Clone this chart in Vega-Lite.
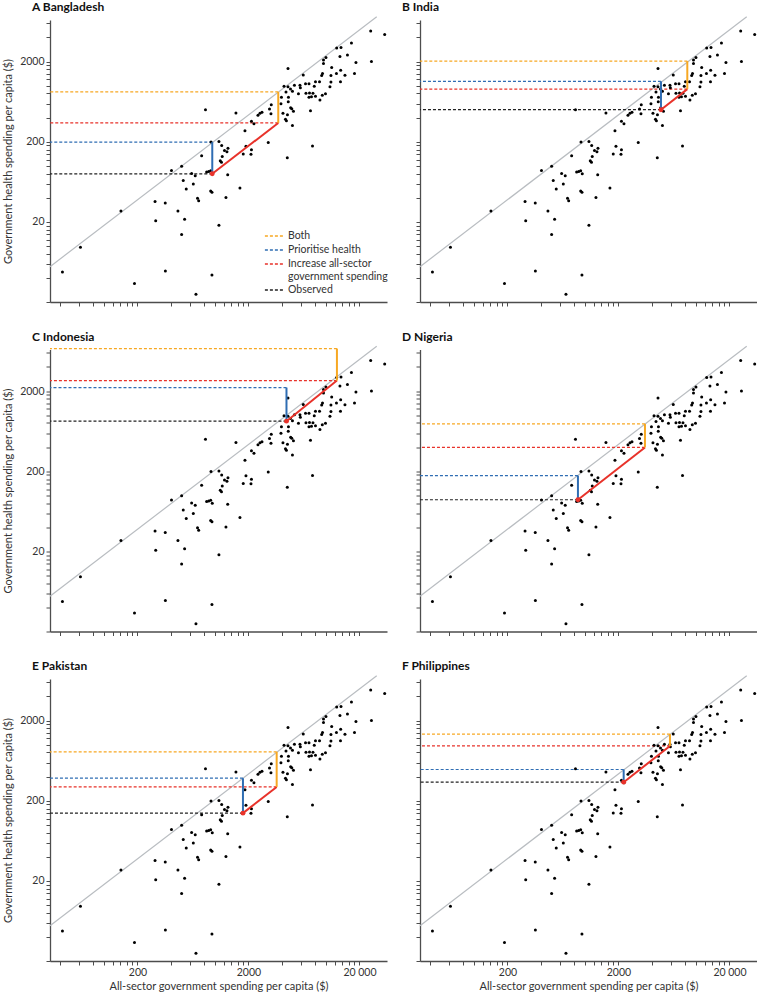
{
"$schema": "https://vega.github.io/schema/vega-lite/v6.json",
"background": "white",
"padding": {"left": 2, "top": 1, "right": 0, "bottom": 4},
"config": {
 "view": {"stroke": null},
 "font": "Lato",
 "axis": {"grid": false, "domainColor": "#4d4d4d", "domainWidth": 1.3, "tickColor": "#4d4d4d", "tickSize": 4, "tickWidth": 1, "labelFont": "Lato", "labelFontSize": 10.5, "labelColor": "#333333", "titleFont": "Lato", "titleFontSize": 11, "titleFontWeight": "normal", "titleColor": "#333333", "labelOverlap": false, "labelPadding": 2},
 "title": {"font": "Lato", "fontSize": 12, "fontWeight": "bold", "anchor": "start", "frame": "group", "dx": -18, "offset": 2, "color": "#111111"}
},
"datasets": {
 "diag": [{"x": 32.6, "y": 5.52, "x2": 28600, "y2": 7240}],
 "pts": [
  {"x":25230,"y":4810},{"x":33730,"y":4350},{"x":13630,"y":2990},{"x":12470,"y":2950},{"x":16940,"y":3406},
  {"x":9480,"y":2088},{"x":9980,"y":2244},{"x":13340,"y":2310},{"x":15590,"y":2412},{"x":18590,"y":1943},
  {"x":25650,"y":2000},{"x":4540,"y":1635},{"x":11240,"y":1692},{"x":13540,"y":1557},{"x":6235,"y":1364},
  {"x":9290,"y":1416},{"x":11070,"y":1337},{"x":12410,"y":1416},{"x":14800,"y":1352},{"x":18030,"y":1416},
  {"x":9130,"y":1345},{"x":8730,"y":1125},{"x":13490,"y":1125},{"x":11070,"y":1109},{"x":10840,"y":974},
  {"x":8030,"y":1118},{"x":7830,"y":988},{"x":7020,"y":1062},{"x":6530,"y":1062},{"x":5820,"y":1017},
  {"x":5870,"y":946},{"x":5190,"y":1017},{"x":4540,"y":974},{"x":4180,"y":988},{"x":4780,"y":907},
  {"x":4980,"y":855},{"x":5640,"y":796},{"x":6590,"y":803},{"x":7090,"y":812},{"x":7620,"y":808},
  {"x":7390,"y":726},{"x":7020,"y":720},{"x":8030,"y":741},{"x":9880,"y":796},{"x":9250,"y":763},
  {"x":8810,"y":662},{"x":7240,"y":488},{"x":4355,"y":836},{"x":3965,"y":720},{"x":4585,"y":720},
  {"x":4565,"y":632},{"x":3925,"y":597},{"x":4800,"y":532},{"x":5085,"y":481},{"x":4910,"y":517},
  {"x":4090,"y":452},{"x":4490,"y":435},{"x":4310,"y":382},{"x":4395,"y":366},{"x":4980,"y":320},
  {"x":3210,"y":580},{"x":3093,"y":513},{"x":3190,"y":448},{"x":2648,"y":468},{"x":2540,"y":454},
  {"x":2436,"y":429},{"x":1543,"y":457},{"x":2128,"y":361},{"x":2242,"y":336},{"x":1859,"y":274},
  {"x":3015,"y":196},{"x":1084,"y":201},{"x":1148,"y":179},{"x":1216,"y":156},{"x":1307,"y":166},
  {"x":1280,"y":150},{"x":1898,"y":176},{"x":2128,"y":159},{"x":2107,"y":140},{"x":1795,"y":141},
  {"x":7550,"y":177},{"x":4475,"y":126},{"x":1161,"y":131},{"x":1114,"y":116},{"x":1143,"y":111},
  {"x":1300,"y":77.3},{"x":1676,"y":52.8},{"x":1254,"y":40.3},{"x":1084,"y":18.2},{"x":938,"y":4.35},
  {"x":820,"y":502},{"x":919,"y":198},{"x":757,"y":134},{"x":405,"y":87.6},{"x":500,"y":98.8},
  {"x":615,"y":80.3},{"x":663,"y":75.2},{"x":840,"y":83.6},{"x":876,"y":85.1},{"x":913,"y":86.8},
  {"x":517,"y":65.7},{"x":637,"y":59.2},{"x":550,"y":51.3},{"x":695,"y":39.3},{"x":712,"y":36.6},
  {"x":913,"y":48.4},{"x":938,"y":47.0},{"x":288,"y":35.9},{"x":356,"y":34.3},{"x":463,"y":27.4},
  {"x":532,"y":21.6},{"x":292,"y":20.6},{"x":142,"y":27.4},{"x":500,"y":13.96},{"x":61.3,"y":9.65},
  {"x":42.2,"y":4.74},{"x":357,"y":4.88},{"x":188,"y":3.41},{"x":673,"y":2.5},{"x":944,"y":79.6},
  {"x":9480,"y":1888}
 ],
 "h": [
  {"country":"Bangladesh","series":"Both","x":3710,"y":836},
  {"country":"Bangladesh","series":"Prioritise health","x":944,"y":198},
  {"country":"Bangladesh","series":"Increase all-sector government spending","x":3710,"y":343},
  {"country":"Bangladesh","series":"Observed","x":944,"y":79.6},
  {"country":"India","series":"Both","x":8340,"y":2029},
  {"country":"India","series":"Prioritise health","x":4830,"y":1134},
  {"country":"India","series":"Increase all-sector government spending","x":8340,"y":907},
  {"country":"India","series":"Observed","x":4830,"y":502},
  {"country":"Indonesia","series":"Both","x":12530,"y":6790},
  {"country":"Indonesia","series":"Prioritise health","x":4400,"y":2213},
  {"country":"Indonesia","series":"Increase all-sector government spending","x":12530,"y":2705},
  {"country":"Indonesia","series":"Observed","x":4400,"y":843},
  {"country":"Nigeria","series":"Both","x":3465,"y":778},
  {"country":"Nigeria","series":"Prioritise health","x":863,"y":176},
  {"country":"Nigeria","series":"Increase all-sector government spending","x":3465,"y":396},
  {"country":"Nigeria","series":"Observed","x":863,"y":88.1},
  {"country":"Pakistan","series":"Both","x":3590,"y":815},
  {"country":"Pakistan","series":"Prioritise health","x":1784,"y":382},
  {"country":"Pakistan","series":"Increase all-sector government spending","x":3590,"y":297.5},
  {"country":"Pakistan","series":"Observed","x":1784,"y":140},
  {"country":"Philippines","series":"Both","x":5820,"y":1356},
  {"country":"Philippines","series":"Prioritise health","x":2228,"y":491},
  {"country":"Philippines","series":"Increase all-sector government spending","x":5820,"y":965},
  {"country":"Philippines","series":"Observed","x":2228,"y":341}
 ],
 "seg": [
  {"country":"Bangladesh","series":"Prioritise health","x":944,"y":79.6,"x2":944,"y2":198},
  {"country":"Bangladesh","series":"Increase all-sector government spending","x":944,"y":79.6,"x2":3710,"y2":343},
  {"country":"Bangladesh","series":"Both","x":3710,"y":343,"x2":3710,"y2":836},
  {"country":"India","series":"Prioritise health","x":4830,"y":502,"x2":4830,"y2":1134},
  {"country":"India","series":"Increase all-sector government spending","x":4830,"y":502,"x2":8340,"y2":907},
  {"country":"India","series":"Both","x":8340,"y":907,"x2":8340,"y2":2029},
  {"country":"Indonesia","series":"Prioritise health","x":4400,"y":843,"x2":4400,"y2":2213},
  {"country":"Indonesia","series":"Increase all-sector government spending","x":4400,"y":843,"x2":12530,"y2":2705},
  {"country":"Indonesia","series":"Both","x":12530,"y":2705,"x2":12530,"y2":6790},
  {"country":"Nigeria","series":"Prioritise health","x":863,"y":88.1,"x2":863,"y2":176},
  {"country":"Nigeria","series":"Increase all-sector government spending","x":863,"y":88.1,"x2":3465,"y2":396},
  {"country":"Nigeria","series":"Both","x":3465,"y":396,"x2":3465,"y2":778},
  {"country":"Pakistan","series":"Prioritise health","x":1784,"y":140,"x2":1784,"y2":382},
  {"country":"Pakistan","series":"Increase all-sector government spending","x":1784,"y":140,"x2":3590,"y2":297.5},
  {"country":"Pakistan","series":"Both","x":3590,"y":297.5,"x2":3590,"y2":815},
  {"country":"Philippines","series":"Prioritise health","x":2228,"y":341,"x2":2228,"y2":491},
  {"country":"Philippines","series":"Increase all-sector government spending","x":2228,"y":341,"x2":5820,"y2":965},
  {"country":"Philippines","series":"Both","x":5820,"y":965,"x2":5820,"y2":1356}
 ]
},
"resolve": {"legend": {"color": "independent"}},
"columns": 2,
"spacing": {"row": 47.5, "column": 33},
"bounds": "flush",
"concat": [
  {"width": 337, "height": 282, "title": {"text": "A  Bangladesh"},
   "layer": [
    {"data": {"name": "diag"}, "mark": {"type": "rule", "color": "#b9bdc1", "strokeWidth": 1.2},
     "encoding": {"x": {"field": "x", "type": "quantitative", "scale": {"type": "log", "domain": [32.6, 35400], "nice": false},
       "axis": {"values": [40,60,80,100,120,140,160,180,200,400,600,800,1000,1200,1400,1600,1800,2000,4000,6000,8000,10000,12000,14000,16000,18000,20000], "labels": false, "title": null}},
      "y": {"field": "y", "type": "quantitative", "scale": {"type": "log", "domain": [2, 6610], "nice": false},
       "axis": {"values": [2,4,6,8,10,12,14,16,18,20,40,60,80,100,120,140,160,180,200,400,600,800,1000,1200,1400,1600,1800,2000,4000,6000], "labelExpr": "datum.value == 20 ? '20' : datum.value == 200 ? '200' : datum.value == 2000 ? '2000' : ''", "title": "Government health spending per capita ($)", "titlePadding": 6}},
      "x2": {"field": "x2"}, "y2": {"field": "y2"}}},
    {"data": {"name": "h"}, "transform": [{"filter": "datum.country == 'Bangladesh'"}], "mark": {"type": "rule", "strokeDash": [3, 2], "strokeWidth": 1.2},
     "encoding": {"x": {"field": "x", "type": "quantitative"}, "x2": {"datum": 32.6}, "y": {"field": "y", "type": "quantitative"},
      "color": {"field": "series", "type": "nominal", "scale": {"domain": ["Both", "Prioritise health", "Increase all-sector government spending", "Observed"], "range": ["#f7a823", "#2f6db3", "#e8322a", "#222222"]},
       "legend": {"orient": "none", "legendX": 216, "legendY": 208, "title": null, "symbolType": "M-1.3,0H1.3", "symbolSize": 196, "symbolDash": [3, 2], "symbolStrokeWidth": 1.3, "labelFont": "Lato", "labelFontSize": 10.5, "labelColor": "#333333", "rowPadding": 0, "labelOffset": 6, "labelExpr": "datum.label == 'Increase all-sector government spending' ? ['Increase all-sector', 'government spending'] : datum.label"}}}},
    {"data": {"name": "pts"}, "mark": {"type": "circle", "size": 9, "color": "#000000", "opacity": 1},
     "encoding": {"x": {"field": "x", "type": "quantitative"}, "y": {"field": "y", "type": "quantitative"}}},
    {"data": {"name": "seg"}, "transform": [{"filter": "datum.country == 'Bangladesh'"}], "mark": {"type": "rule", "strokeWidth": 2},
     "encoding": {"x": {"field": "x", "type": "quantitative"}, "y": {"field": "y", "type": "quantitative"}, "x2": {"field": "x2"}, "y2": {"field": "y2"}, "color": {"field": "series", "type": "nominal"}}},
    {"data": {"name": "h"}, "transform": [{"filter": "datum.country == 'Bangladesh' && datum.series == 'Observed'"}], "mark": {"type": "circle", "size": 24, "color": "#e8322a", "opacity": 1},
     "encoding": {"x": {"field": "x", "type": "quantitative"}, "y": {"field": "y", "type": "quantitative"}}}
   ]},
  {"width": 337, "height": 282, "title": {"text": "B  India"},
   "layer": [
    {"data": {"name": "diag"}, "mark": {"type": "rule", "color": "#b9bdc1", "strokeWidth": 1.2},
     "encoding": {"x": {"field": "x", "type": "quantitative", "scale": {"type": "log", "domain": [32.6, 35400], "nice": false},
       "axis": {"values": [40,60,80,100,120,140,160,180,200,400,600,800,1000,1200,1400,1600,1800,2000,4000,6000,8000,10000,12000,14000,16000,18000,20000], "labels": false, "title": null}},
      "y": {"field": "y", "type": "quantitative", "scale": {"type": "log", "domain": [2, 6610], "nice": false},
       "axis": {"values": [2,4,6,8,10,12,14,16,18,20,40,60,80,100,120,140,160,180,200,400,600,800,1000,1200,1400,1600,1800,2000,4000,6000], "labels": false, "title": null}},
      "x2": {"field": "x2"}, "y2": {"field": "y2"}}},
    {"data": {"name": "h"}, "transform": [{"filter": "datum.country == 'India'"}], "mark": {"type": "rule", "strokeDash": [3, 2], "strokeWidth": 1.2},
     "encoding": {"x": {"field": "x", "type": "quantitative"}, "x2": {"datum": 32.6}, "y": {"field": "y", "type": "quantitative"}, "color": {"field": "series", "type": "nominal", "legend": null}}},
    {"data": {"name": "pts"}, "mark": {"type": "circle", "size": 9, "color": "#000000", "opacity": 1},
     "encoding": {"x": {"field": "x", "type": "quantitative"}, "y": {"field": "y", "type": "quantitative"}}},
    {"data": {"name": "seg"}, "transform": [{"filter": "datum.country == 'India'"}], "mark": {"type": "rule", "strokeWidth": 2},
     "encoding": {"x": {"field": "x", "type": "quantitative"}, "y": {"field": "y", "type": "quantitative"}, "x2": {"field": "x2"}, "y2": {"field": "y2"}, "color": {"field": "series", "type": "nominal", "legend": null}}},
    {"data": {"name": "h"}, "transform": [{"filter": "datum.country == 'India' && datum.series == 'Observed'"}], "mark": {"type": "circle", "size": 24, "color": "#e8322a", "opacity": 1},
     "encoding": {"x": {"field": "x", "type": "quantitative"}, "y": {"field": "y", "type": "quantitative"}}}
   ]},
  {"width": 337, "height": 282, "title": {"text": "C  Indonesia"},
   "layer": [
    {"data": {"name": "diag"}, "mark": {"type": "rule", "color": "#b9bdc1", "strokeWidth": 1.2},
     "encoding": {"x": {"field": "x", "type": "quantitative", "scale": {"type": "log", "domain": [32.6, 35400], "nice": false},
       "axis": {"values": [40,60,80,100,120,140,160,180,200,400,600,800,1000,1200,1400,1600,1800,2000,4000,6000,8000,10000,12000,14000,16000,18000,20000], "labels": false, "title": null}},
      "y": {"field": "y", "type": "quantitative", "scale": {"type": "log", "domain": [2, 6610], "nice": false},
       "axis": {"values": [2,4,6,8,10,12,14,16,18,20,40,60,80,100,120,140,160,180,200,400,600,800,1000,1200,1400,1600,1800,2000,4000,6000], "labelExpr": "datum.value == 20 ? '20' : datum.value == 200 ? '200' : datum.value == 2000 ? '2000' : ''", "title": "Government health spending per capita ($)", "titlePadding": 6}},
      "x2": {"field": "x2"}, "y2": {"field": "y2"}}},
    {"data": {"name": "h"}, "transform": [{"filter": "datum.country == 'Indonesia'"}], "mark": {"type": "rule", "strokeDash": [3, 2], "strokeWidth": 1.2},
     "encoding": {"x": {"field": "x", "type": "quantitative"}, "x2": {"datum": 32.6}, "y": {"field": "y", "type": "quantitative"}, "color": {"field": "series", "type": "nominal", "legend": null}}},
    {"data": {"name": "pts"}, "mark": {"type": "circle", "size": 9, "color": "#000000", "opacity": 1},
     "encoding": {"x": {"field": "x", "type": "quantitative"}, "y": {"field": "y", "type": "quantitative"}}},
    {"data": {"name": "seg"}, "transform": [{"filter": "datum.country == 'Indonesia'"}], "mark": {"type": "rule", "strokeWidth": 2},
     "encoding": {"x": {"field": "x", "type": "quantitative"}, "y": {"field": "y", "type": "quantitative"}, "x2": {"field": "x2"}, "y2": {"field": "y2"}, "color": {"field": "series", "type": "nominal", "legend": null}}},
    {"data": {"name": "h"}, "transform": [{"filter": "datum.country == 'Indonesia' && datum.series == 'Observed'"}], "mark": {"type": "circle", "size": 24, "color": "#e8322a", "opacity": 1},
     "encoding": {"x": {"field": "x", "type": "quantitative"}, "y": {"field": "y", "type": "quantitative"}}}
   ]},
  {"width": 337, "height": 282, "title": {"text": "D  Nigeria"},
   "layer": [
    {"data": {"name": "diag"}, "mark": {"type": "rule", "color": "#b9bdc1", "strokeWidth": 1.2},
     "encoding": {"x": {"field": "x", "type": "quantitative", "scale": {"type": "log", "domain": [32.6, 35400], "nice": false},
       "axis": {"values": [40,60,80,100,120,140,160,180,200,400,600,800,1000,1200,1400,1600,1800,2000,4000,6000,8000,10000,12000,14000,16000,18000,20000], "labels": false, "title": null}},
      "y": {"field": "y", "type": "quantitative", "scale": {"type": "log", "domain": [2, 6610], "nice": false},
       "axis": {"values": [2,4,6,8,10,12,14,16,18,20,40,60,80,100,120,140,160,180,200,400,600,800,1000,1200,1400,1600,1800,2000,4000,6000], "labels": false, "title": null}},
      "x2": {"field": "x2"}, "y2": {"field": "y2"}}},
    {"data": {"name": "h"}, "transform": [{"filter": "datum.country == 'Nigeria'"}], "mark": {"type": "rule", "strokeDash": [3, 2], "strokeWidth": 1.2},
     "encoding": {"x": {"field": "x", "type": "quantitative"}, "x2": {"datum": 32.6}, "y": {"field": "y", "type": "quantitative"}, "color": {"field": "series", "type": "nominal", "legend": null}}},
    {"data": {"name": "pts"}, "mark": {"type": "circle", "size": 9, "color": "#000000", "opacity": 1},
     "encoding": {"x": {"field": "x", "type": "quantitative"}, "y": {"field": "y", "type": "quantitative"}}},
    {"data": {"name": "seg"}, "transform": [{"filter": "datum.country == 'Nigeria'"}], "mark": {"type": "rule", "strokeWidth": 2},
     "encoding": {"x": {"field": "x", "type": "quantitative"}, "y": {"field": "y", "type": "quantitative"}, "x2": {"field": "x2"}, "y2": {"field": "y2"}, "color": {"field": "series", "type": "nominal", "legend": null}}},
    {"data": {"name": "h"}, "transform": [{"filter": "datum.country == 'Nigeria' && datum.series == 'Observed'"}], "mark": {"type": "circle", "size": 24, "color": "#e8322a", "opacity": 1},
     "encoding": {"x": {"field": "x", "type": "quantitative"}, "y": {"field": "y", "type": "quantitative"}}}
   ]},
  {"width": 337, "height": 282, "title": {"text": "E  Pakistan"},
   "layer": [
    {"data": {"name": "diag"}, "mark": {"type": "rule", "color": "#b9bdc1", "strokeWidth": 1.2},
     "encoding": {"x": {"field": "x", "type": "quantitative", "scale": {"type": "log", "domain": [32.6, 35400], "nice": false},
       "axis": {"values": [40,60,80,100,120,140,160,180,200,400,600,800,1000,1200,1400,1600,1800,2000,4000,6000,8000,10000,12000,14000,16000,18000,20000], "labelExpr": "datum.value == 200 ? '200' : datum.value == 2000 ? '2000' : datum.value == 20000 ? '20 000' : ''", "title": "All-sector government spending per capita ($)", "titlePadding": 3}},
      "y": {"field": "y", "type": "quantitative", "scale": {"type": "log", "domain": [2, 6610], "nice": false},
       "axis": {"values": [2,4,6,8,10,12,14,16,18,20,40,60,80,100,120,140,160,180,200,400,600,800,1000,1200,1400,1600,1800,2000,4000,6000], "labelExpr": "datum.value == 20 ? '20' : datum.value == 200 ? '200' : datum.value == 2000 ? '2000' : ''", "title": "Government health spending per capita ($)", "titlePadding": 6}},
      "x2": {"field": "x2"}, "y2": {"field": "y2"}}},
    {"data": {"name": "h"}, "transform": [{"filter": "datum.country == 'Pakistan'"}], "mark": {"type": "rule", "strokeDash": [3, 2], "strokeWidth": 1.2},
     "encoding": {"x": {"field": "x", "type": "quantitative"}, "x2": {"datum": 32.6}, "y": {"field": "y", "type": "quantitative"}, "color": {"field": "series", "type": "nominal", "legend": null}}},
    {"data": {"name": "pts"}, "mark": {"type": "circle", "size": 9, "color": "#000000", "opacity": 1},
     "encoding": {"x": {"field": "x", "type": "quantitative"}, "y": {"field": "y", "type": "quantitative"}}},
    {"data": {"name": "seg"}, "transform": [{"filter": "datum.country == 'Pakistan'"}], "mark": {"type": "rule", "strokeWidth": 2},
     "encoding": {"x": {"field": "x", "type": "quantitative"}, "y": {"field": "y", "type": "quantitative"}, "x2": {"field": "x2"}, "y2": {"field": "y2"}, "color": {"field": "series", "type": "nominal", "legend": null}}},
    {"data": {"name": "h"}, "transform": [{"filter": "datum.country == 'Pakistan' && datum.series == 'Observed'"}], "mark": {"type": "circle", "size": 24, "color": "#e8322a", "opacity": 1},
     "encoding": {"x": {"field": "x", "type": "quantitative"}, "y": {"field": "y", "type": "quantitative"}}}
   ]},
  {"width": 337, "height": 282, "title": {"text": "F  Philippines"},
   "layer": [
    {"data": {"name": "diag"}, "mark": {"type": "rule", "color": "#b9bdc1", "strokeWidth": 1.2},
     "encoding": {"x": {"field": "x", "type": "quantitative", "scale": {"type": "log", "domain": [32.6, 35400], "nice": false},
       "axis": {"values": [40,60,80,100,120,140,160,180,200,400,600,800,1000,1200,1400,1600,1800,2000,4000,6000,8000,10000,12000,14000,16000,18000,20000], "labelExpr": "datum.value == 200 ? '200' : datum.value == 2000 ? '2000' : datum.value == 20000 ? '20 000' : ''", "title": "All-sector government spending per capita ($)", "titlePadding": 3}},
      "y": {"field": "y", "type": "quantitative", "scale": {"type": "log", "domain": [2, 6610], "nice": false},
       "axis": {"values": [2,4,6,8,10,12,14,16,18,20,40,60,80,100,120,140,160,180,200,400,600,800,1000,1200,1400,1600,1800,2000,4000,6000], "labels": false, "title": null}},
      "x2": {"field": "x2"}, "y2": {"field": "y2"}}},
    {"data": {"name": "h"}, "transform": [{"filter": "datum.country == 'Philippines'"}], "mark": {"type": "rule", "strokeDash": [3, 2], "strokeWidth": 1.2},
     "encoding": {"x": {"field": "x", "type": "quantitative"}, "x2": {"datum": 32.6}, "y": {"field": "y", "type": "quantitative"}, "color": {"field": "series", "type": "nominal", "legend": null}}},
    {"data": {"name": "pts"}, "mark": {"type": "circle", "size": 9, "color": "#000000", "opacity": 1},
     "encoding": {"x": {"field": "x", "type": "quantitative"}, "y": {"field": "y", "type": "quantitative"}}},
    {"data": {"name": "seg"}, "transform": [{"filter": "datum.country == 'Philippines'"}], "mark": {"type": "rule", "strokeWidth": 2},
     "encoding": {"x": {"field": "x", "type": "quantitative"}, "y": {"field": "y", "type": "quantitative"}, "x2": {"field": "x2"}, "y2": {"field": "y2"}, "color": {"field": "series", "type": "nominal", "legend": null}}},
    {"data": {"name": "h"}, "transform": [{"filter": "datum.country == 'Philippines' && datum.series == 'Observed'"}], "mark": {"type": "circle", "size": 24, "color": "#e8322a", "opacity": 1},
     "encoding": {"x": {"field": "x", "type": "quantitative"}, "y": {"field": "y", "type": "quantitative"}}}
   ]}
]
}
